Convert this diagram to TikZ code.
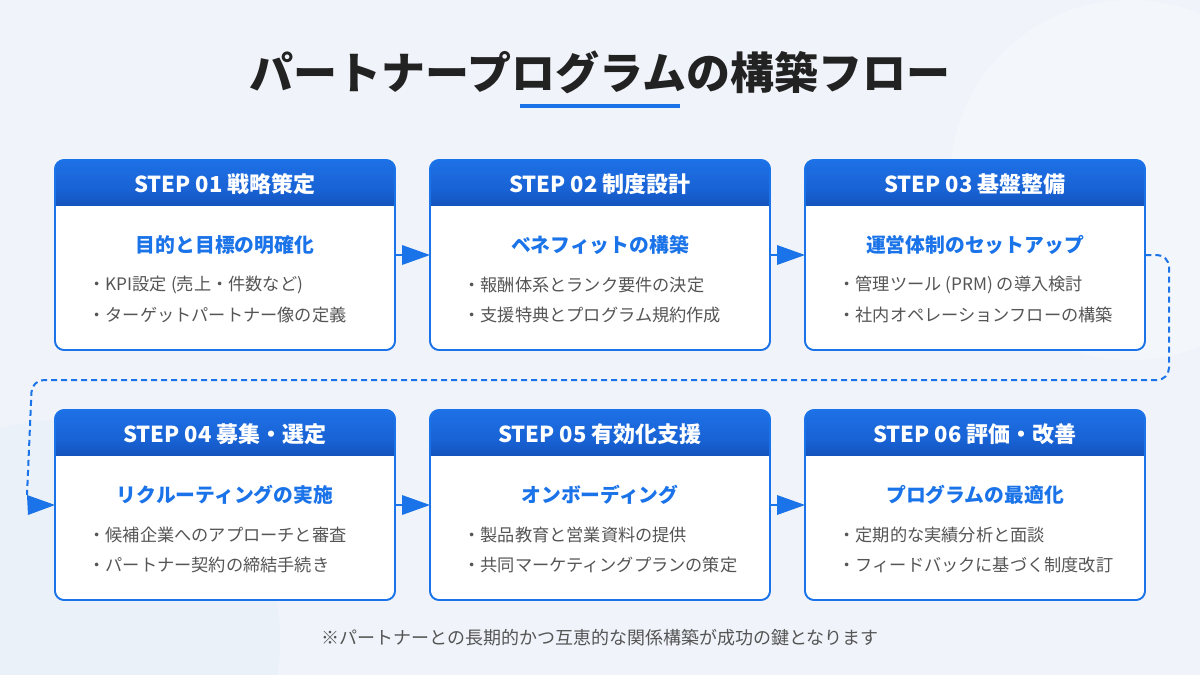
\documentclass[tikz,border=0pt]{standalone}
\usepackage{fontspec}
\setmainfont{Noto Sans CJK JP}
\usetikzlibrary{calc}
\definecolor{bg}{RGB}{240,244,250}
\definecolor{blue}{RGB}{26,115,232}
\definecolor{hdtop}{RGB}{30,112,230}
\definecolor{hdbot}{RGB}{24,98,212}
\definecolor{band}{RGB}{20,84,190}
\definecolor{txt}{RGB}{34,34,34}
\definecolor{gray}{RGB}{85,85,85}
\tikzset{
  box/.style={draw=blue,line width=1.6pt,fill=white,rounded corners=9pt},
  hdr/.style={font=\fontsize{22}{24}\selectfont\bfseries,text=white},
  sub/.style={font=\fontsize{19.8}{22}\selectfont\bfseries,text=blue},
  bul/.style={font=\fontsize{17.2}{20}\selectfont,text=gray,anchor=west},
  conn/.style={draw=blue,line width=2pt},
}
\begin{document}
\begin{tikzpicture}[x=1pt,y=-1pt]
\useasboundingbox (0,0) rectangle (1200,675);
\fill[bg] (0,0) rectangle (1200,675);
\begin{scope}
\clip (0,0) rectangle (1200,675);
\fill[white,opacity=0.25] (1130,180) circle (180);
\fill[blue,opacity=0.02] (60,640) circle (220);
\end{scope}
\node[font=\fontsize{44}{50}\selectfont\bfseries,text=txt] (title) at (600,72) {パートナープログラムの構築フロー};
\fill[blue] (520,104) rectangle (680,108);
\coordinate (ul) at (600,106);

\newcommand{\stepbox}[7]{%
 \begin{scope}
  \path[box] (#2,#3) rectangle ++(340,190);
  \clip[rounded corners=9pt] (#2,#3) rectangle ++(340,190);
  \shade[top color=hdtop,bottom color=hdbot] (#2,#3) rectangle ++(340,31);
  \shade[top color=hdbot,bottom color=band] ($(#2,#3)+(0,30)$) rectangle ++(340,15);
 \end{scope}
 \draw[blue,line width=1.6pt,rounded corners=9pt] (#2,#3) rectangle ++(340,190);
 \node[draw=none,minimum width=340pt,minimum height=190pt,anchor=north west] (#1) at (#2,#3) {};
 \node[hdr] (#1h) at ($(#2,#3)+(170,24)$) {#4};
 \node[sub] (#1s) at ($(#2,#3)+(170,85)$) {#5};
 \node[bul] (#1a) at ($(#2,#3)+(30,125)$) {・#6};
 \node[bul] (#1b) at ($(#2,#3)+(30,155)$) {・#7};
}
\stepbox{s1}{55}{160}{STEP 01 戦略策定}{目的と目標の明確化}{KPI設定 (売上・件数など)}{ターゲットパートナー像の定義}
\stepbox{s2}{430}{160}{STEP 02 制度設計}{ベネフィットの構築}{報酬体系とランク要件の決定}{支援特典とプログラム規約作成}
\stepbox{s3}{805}{160}{STEP 03 基盤整備}{運営体制のセットアップ}{管理ツール (PRM) の導入検討}{社内オペレーションフローの構築}
\stepbox{s4}{55}{410}{STEP 04 募集・選定}{リクルーティングの実施}{候補企業へのアプローチと審査}{パートナー契約の締結手続き}
\stepbox{s5}{430}{410}{STEP 05 有効化支援}{オンボーディング}{製品教育と営業資料の提供}{共同マーケティングプランの策定}
\stepbox{s6}{805}{410}{STEP 06 評価・改善}{プログラムの最適化}{定期的な実績分析と面談}{フィードバックに基づく制度改訂}

\foreach \a/\b/\y in {s1/s2/255,s2/s3/255,s4/s5/505,s5/s6/505}{
  \draw[conn] (\a.east |- 0,\y) -- ++(8,0);
  \fill[blue] ($(\b.west |- 0,\y)+(-28,-10)$) -- (\b.west |- 0,\y) -- ++(-28,10) -- cycle;
}
\draw[conn,dash pattern=on 6pt off 4pt,rounded corners=12pt]
  (s3.east |- 0,255) -- (1169,255) -- (1169,380) -- (32,380) -- (27,495);
\fill[blue] (27,495) -- (28,515) -- (55,505) -- cycle;
\coordinate (s4in) at (s4.west |- 0,505);

\node[font=\fontsize{18}{20}\selectfont,text=gray] (note) at (600,638) {※パートナーとの長期的かつ互恵的な関係構築が成功の鍵となります};
\end{tikzpicture}
\end{document}
